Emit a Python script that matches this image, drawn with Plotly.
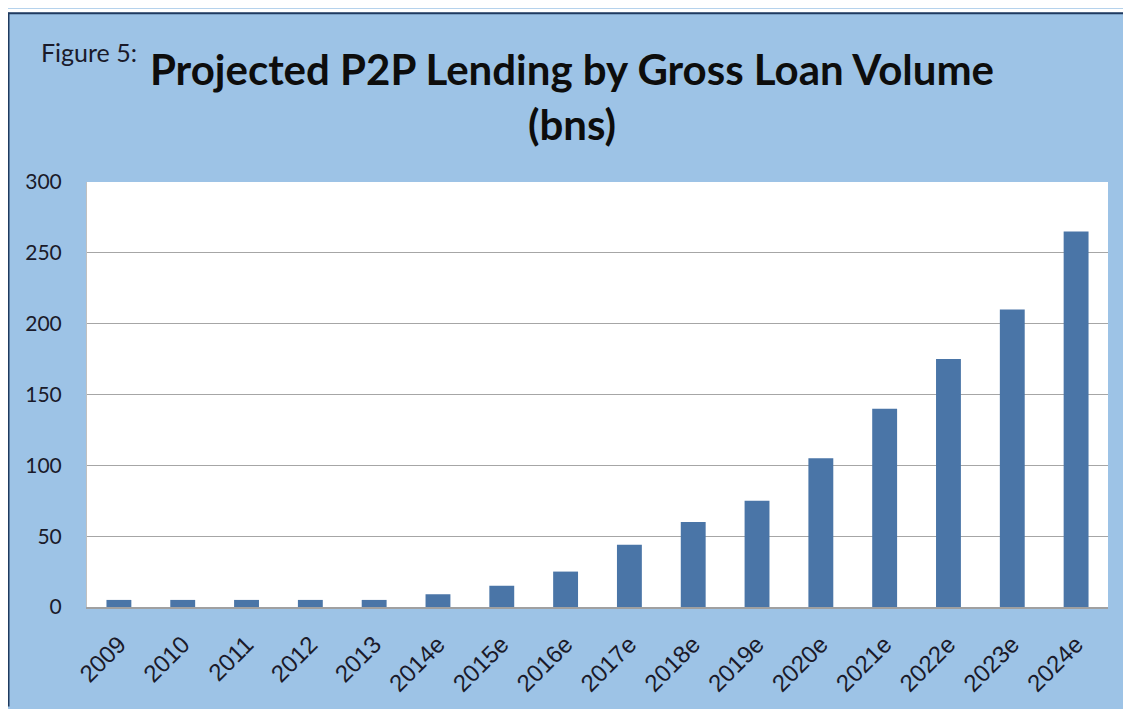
import plotly.graph_objects as go

categories = ["2009", "2010", "2011", "2012", "2013", "2014e", "2015e", "2016e",
              "2017e", "2018e", "2019e", "2020e", "2021e", "2022e", "2023e", "2024e"]
values = [5, 5, 5, 5, 5, 9, 15, 25, 44, 60, 75, 105, 140, 175, 210, 265]
y_ticks = [0, 50, 100, 150, 200, 250, 300]

# the page body adds an 8px margin, so the figure is 8px smaller each way
W, H = 1123, 701
L, R, T, B = 79, 23, 174, 100
PW, PH = W - L - R, H - T - B

fig = go.Figure()
fig.add_trace(go.Bar(
    x=categories, y=values,
    marker=dict(color="#4a75a7", line=dict(width=0)),
    hoverinfo="x+y",
))

def px_x(p):
    return (p - L) / PW

def px_y(p):
    return 1 - (p - T) / PH

fig.update_layout(
    width=W, height=H,
    paper_bgcolor="#9dc3e6",
    plot_bgcolor="white",
    margin=dict(l=L, r=R, t=T, b=B),
    bargap=0.61,
    showlegend=False,
    title=dict(
        text="<b>Projected P2P Lending by Gross Loan Volume<br>(bns)</b>",
        xref="container", yref="container",
        x=(572 - 8) / W, xanchor="center", y=1 - (85 - 8) / H, yanchor="middle",
        font=dict(family="Lato", size=42, color="#0d0d0d"),
    ),
    shapes=[
        # white strip above the frame
        dict(type="rect", xref="paper", yref="paper", layer="below",
             x0=px_x(0), x1=px_x(W), y0=px_y(4), y1=px_y(0),
             fillcolor="white", line=dict(width=0)),
        # frame border: top and left
        dict(type="line", xref="paper", yref="paper",
             x0=px_x(0), x1=px_x(W), y0=px_y(4.5), y1=px_y(4.5),
             line=dict(color="#1f3a5f", width=2)),
        dict(type="line", xref="paper", yref="paper",
             x0=px_x(0.5), x1=px_x(0.5), y0=px_y(4), y1=px_y(H),
             line=dict(color="#1f3a5f", width=2)),
    ],
    annotations=[
        dict(text="Figure 5:", xref="paper", yref="paper",
             x=px_x(31), y=px_y(43), xanchor="left", yanchor="middle",
             showarrow=False, font=dict(family="Lato", size=25, color="#1a1a2a")),
    ],
    xaxis=dict(
        tickangle=-45,
        tickfont=dict(family="Liberation Sans", size=24, color="#1a1a2a"),
        showline=True, linecolor="#a0a0a0", linewidth=1.5,
        ticks="", showgrid=False, ticklabelstandoff=12,
    ),
    yaxis=dict(
        range=[0, 300], tickvals=y_ticks,
        tickfont=dict(family="Lato", size=21, color="#1a1a2a"),
        showgrid=True, gridcolor="#a6a6a6", gridwidth=1.2,
        showline=True, linecolor="#c0c0c0", linewidth=1,
        ticks="", ticklabelstandoff=20, zeroline=False,
    ),
)

fig.write_html("out.html")
